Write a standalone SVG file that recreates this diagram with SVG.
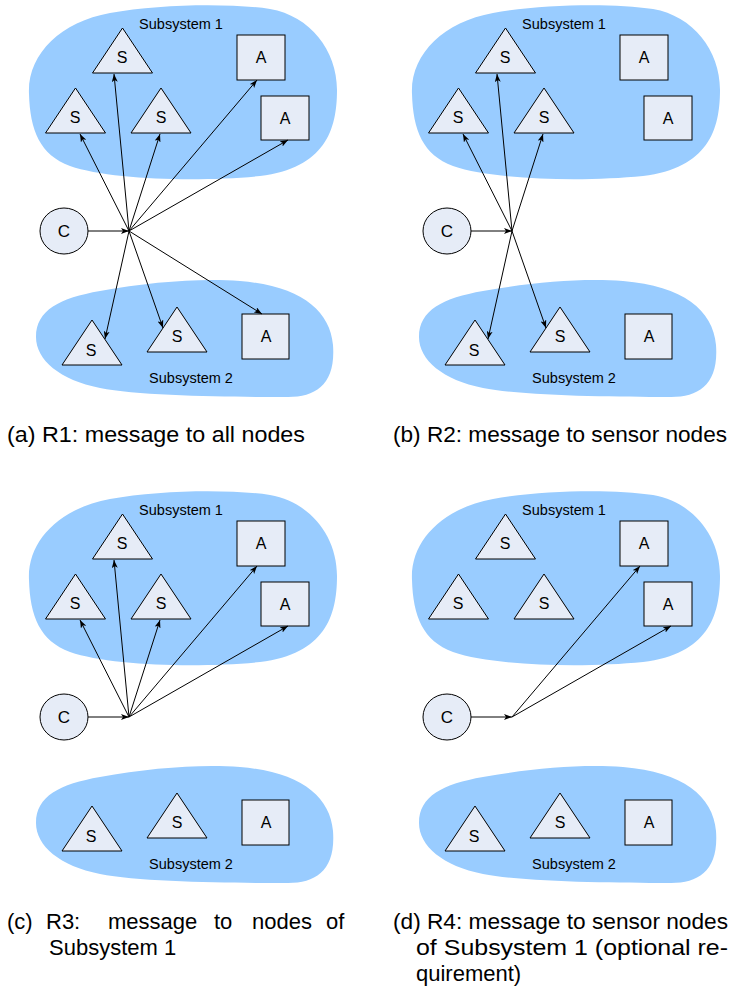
<svg xmlns="http://www.w3.org/2000/svg" width="730" height="994" viewBox="0 0 730 994">
  <style>
    .blob { fill: #99ccff; stroke: none; }
    .node { fill: #e6ecf7; stroke: #000; stroke-width: 1; }
    .lbl { font-family: "Liberation Sans", Arial, sans-serif; font-size: 16px; fill: #000; text-anchor: middle; }
    .sub { font-family: "Liberation Sans", Arial, sans-serif; font-size: 14.5px; fill: #000; text-anchor: middle; }
    .cap { font-family: "Liberation Sans", Arial, sans-serif; font-size: 22px; fill: #000; }
    .edge { stroke: #000; stroke-width: 1; fill: none; marker-end: url(#arr); }
  </style>
  <defs>
    <marker id="arr" viewBox="0 0 8 6" refX="8" refY="3" markerWidth="8" markerHeight="6" markerUnits="userSpaceOnUse" orient="auto">
      <path d="M0,0 L8,3 L0,6 L2,3 Z" fill="#000"/>
    </marker>
    <path id="blob1" d="M29,94 C27,55 60,22 110,13 C160,4 230,3 270,9 C310,16 337,50 337,90 C337,130 325,168 260,176 C200,182 110,180 70,166 C40,155 30,130 29,94 Z"/>
    <path id="blob2" d="M36,337 C36,310 60,298 100,291 C150,282 200,278 240,281 C300,286 330,310 333,345 C336,385 315,398 285,397 C230,397 140,396 100,388 C60,380 36,360 36,337 Z"/>
  </defs>

  <!-- panel (a): broadcast to all nodes -->
  <g id="panel-a">
    <use href="#blob1" class="blob"/>
    <use href="#blob2" class="blob"/>
    <text class="sub" x="181" y="29">Subsystem 1</text>
    <text class="sub" x="191" y="383">Subsystem 2</text>
    <g id="a-s1"><polygon class="node" points="122.5,28 92.5,73 152.5,73"/><text class="lbl" x="122" y="63">S</text></g>
    <g id="a-s2"><polygon class="node" points="75.5,88 45.5,133 105.5,133"/><text class="lbl" x="75" y="123">S</text></g>
    <g id="a-s3"><polygon class="node" points="161,88 131,133 191,133"/><text class="lbl" x="161" y="123">S</text></g>
    <g id="a-a1"><rect class="node" x="237" y="35" width="48" height="45"/><text class="lbl" x="261" y="63">A</text></g>
    <g id="a-a2"><rect class="node" x="261" y="96" width="48" height="44"/><text class="lbl" x="285" y="124">A</text></g>
    <g id="a-s4"><polygon class="node" points="92,320 62,365 122,365"/><text class="lbl" x="91" y="356">S</text></g>
    <g id="a-s5"><polygon class="node" points="177,307 147,352 207,352"/><text class="lbl" x="177" y="342">S</text></g>
    <g id="a-a3"><rect class="node" x="242" y="314" width="47" height="45"/><text class="lbl" x="266" y="342">A</text></g>
    <g id="a-c"><ellipse class="node" cx="64" cy="231" rx="24" ry="23"/><text class="lbl" x="64" y="237" style="font-size:17px">C</text></g>
    <g id="a-edges">
      <line class="edge" x1="88" y1="231" x2="129" y2="231"/>
      <line class="edge" x1="129" y1="231" x2="114" y2="74"/>
      <line class="edge" x1="129" y1="231" x2="80" y2="134"/>
      <line class="edge" x1="129" y1="231" x2="160" y2="134"/>
      <line class="edge" x1="129" y1="231" x2="257" y2="80"/>
      <line class="edge" x1="129" y1="231" x2="288" y2="140"/>
      <line class="edge" x1="129" y1="231" x2="105" y2="339"/>
      <line class="edge" x1="129" y1="231" x2="163" y2="328"/>
      <line class="edge" x1="129" y1="231" x2="262" y2="314"/>
    </g>
  </g>

  <!-- panel (b): sensor nodes only -->
  <g id="panel-b" transform="translate(383,0)">
    <use href="#blob1" class="blob"/>
    <use href="#blob2" class="blob"/>
    <text class="sub" x="181" y="29">Subsystem 1</text>
    <text class="sub" x="191" y="383">Subsystem 2</text>
    <g id="b-s1"><polygon class="node" points="122.5,28 92.5,73 152.5,73"/><text class="lbl" x="122" y="63">S</text></g>
    <g id="b-s2"><polygon class="node" points="75.5,88 45.5,133 105.5,133"/><text class="lbl" x="75" y="123">S</text></g>
    <g id="b-s3"><polygon class="node" points="161,88 131,133 191,133"/><text class="lbl" x="161" y="123">S</text></g>
    <g id="b-a1"><rect class="node" x="237" y="35" width="48" height="45"/><text class="lbl" x="261" y="63">A</text></g>
    <g id="b-a2"><rect class="node" x="261" y="96" width="48" height="44"/><text class="lbl" x="285" y="124">A</text></g>
    <g id="b-s4"><polygon class="node" points="92,320 62,365 122,365"/><text class="lbl" x="91" y="356">S</text></g>
    <g id="b-s5"><polygon class="node" points="177,307 147,352 207,352"/><text class="lbl" x="177" y="342">S</text></g>
    <g id="b-a3"><rect class="node" x="242" y="314" width="47" height="45"/><text class="lbl" x="266" y="342">A</text></g>
    <g id="b-c"><ellipse class="node" cx="64" cy="231" rx="24" ry="23"/><text class="lbl" x="64" y="237" style="font-size:17px">C</text></g>
    <g id="b-edges">
      <line class="edge" x1="88" y1="231" x2="129" y2="231"/>
      <line class="edge" x1="129" y1="231" x2="114" y2="74"/>
      <line class="edge" x1="129" y1="231" x2="80" y2="134"/>
      <line class="edge" x1="129" y1="231" x2="160" y2="134"/>
      <line class="edge" x1="129" y1="231" x2="105" y2="339"/>
      <line class="edge" x1="129" y1="231" x2="163" y2="328"/>
    </g>
  </g>

  <!-- panel (c): nodes of subsystem 1 -->
  <g id="panel-c" transform="translate(0,486)">
    <use href="#blob1" class="blob"/>
    <use href="#blob2" class="blob"/>
    <text class="sub" x="181" y="29">Subsystem 1</text>
    <text class="sub" x="191" y="383">Subsystem 2</text>
    <g id="c-s1"><polygon class="node" points="122.5,28 92.5,73 152.5,73"/><text class="lbl" x="122" y="63">S</text></g>
    <g id="c-s2"><polygon class="node" points="75.5,88 45.5,133 105.5,133"/><text class="lbl" x="75" y="123">S</text></g>
    <g id="c-s3"><polygon class="node" points="161,88 131,133 191,133"/><text class="lbl" x="161" y="123">S</text></g>
    <g id="c-a1"><rect class="node" x="237" y="35" width="48" height="45"/><text class="lbl" x="261" y="63">A</text></g>
    <g id="c-a2"><rect class="node" x="261" y="96" width="48" height="44"/><text class="lbl" x="285" y="124">A</text></g>
    <g id="c-s4"><polygon class="node" points="92,320 62,365 122,365"/><text class="lbl" x="91" y="356">S</text></g>
    <g id="c-s5"><polygon class="node" points="177,307 147,352 207,352"/><text class="lbl" x="177" y="342">S</text></g>
    <g id="c-a3"><rect class="node" x="242" y="314" width="47" height="45"/><text class="lbl" x="266" y="342">A</text></g>
    <g id="c-c"><ellipse class="node" cx="64" cy="231" rx="24" ry="23"/><text class="lbl" x="64" y="237" style="font-size:17px">C</text></g>
    <g id="c-edges">
      <line class="edge" x1="88" y1="231" x2="129" y2="231"/>
      <line class="edge" x1="129" y1="231" x2="114" y2="74"/>
      <line class="edge" x1="129" y1="231" x2="80" y2="134"/>
      <line class="edge" x1="129" y1="231" x2="160" y2="134"/>
      <line class="edge" x1="129" y1="231" x2="257" y2="80"/>
      <line class="edge" x1="129" y1="231" x2="288" y2="140"/>
    </g>
  </g>

  <!-- panel (d): actuators of subsystem 1 -->
  <g id="panel-d" transform="translate(383,486)">
    <use href="#blob1" class="blob"/>
    <use href="#blob2" class="blob"/>
    <text class="sub" x="181" y="29">Subsystem 1</text>
    <text class="sub" x="191" y="383">Subsystem 2</text>
    <g id="d-s1"><polygon class="node" points="122.5,28 92.5,73 152.5,73"/><text class="lbl" x="122" y="63">S</text></g>
    <g id="d-s2"><polygon class="node" points="75.5,88 45.5,133 105.5,133"/><text class="lbl" x="75" y="123">S</text></g>
    <g id="d-s3"><polygon class="node" points="161,88 131,133 191,133"/><text class="lbl" x="161" y="123">S</text></g>
    <g id="d-a1"><rect class="node" x="237" y="35" width="48" height="45"/><text class="lbl" x="261" y="63">A</text></g>
    <g id="d-a2"><rect class="node" x="261" y="96" width="48" height="44"/><text class="lbl" x="285" y="124">A</text></g>
    <g id="d-s4"><polygon class="node" points="92,320 62,365 122,365"/><text class="lbl" x="91" y="356">S</text></g>
    <g id="d-s5"><polygon class="node" points="177,307 147,352 207,352"/><text class="lbl" x="177" y="342">S</text></g>
    <g id="d-a3"><rect class="node" x="242" y="314" width="47" height="45"/><text class="lbl" x="266" y="342">A</text></g>
    <g id="d-c"><ellipse class="node" cx="64" cy="231" rx="24" ry="23"/><text class="lbl" x="64" y="237" style="font-size:17px">C</text></g>
    <g id="d-edges">
      <line class="edge" x1="88" y1="231" x2="129" y2="231"/>
      <line class="edge" x1="129" y1="231" x2="257" y2="80"/>
      <line class="edge" x1="129" y1="231" x2="288" y2="140"/>
    </g>
  </g>

  <!-- captions -->
  <g id="captions">
    <text class="cap" x="7" y="442" textLength="298" lengthAdjust="spacingAndGlyphs">(a) R1:  message to all nodes</text>
    <text class="cap" x="393" y="442" textLength="334" lengthAdjust="spacingAndGlyphs">(b) R2:  message to sensor nodes</text>
    <text class="cap" y="929"><tspan x="7">(c)</tspan><tspan x="46">R3:</tspan><tspan x="108">message</tspan><tspan x="214">to</tspan><tspan x="252">nodes</tspan><tspan x="326">of</tspan></text>
    <text class="cap" x="49" y="955">Subsystem 1</text>
    <text class="cap" x="393" y="929" textLength="335" lengthAdjust="spacingAndGlyphs">(d) R4: message to sensor nodes</text>
    <text class="cap" x="416" y="955" textLength="312" lengthAdjust="spacingAndGlyphs">of Subsystem 1 (optional re-</text>
    <text class="cap" x="416" y="981">quirement)</text>
  </g>
</svg>
